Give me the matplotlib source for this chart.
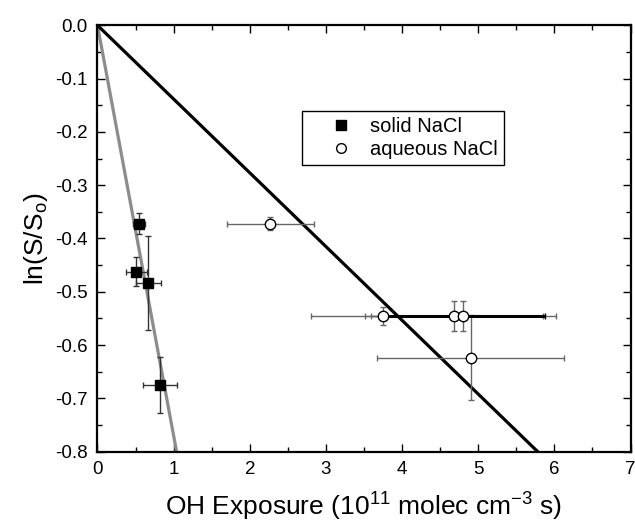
import matplotlib
matplotlib.use("Agg")
import matplotlib.pyplot as plt
from matplotlib.ticker import MultipleLocator, FormatStrFormatter
from matplotlib.lines import Line2D
import numpy as np

plt.rcParams['font.family'] = ['Liberation Sans', 'DejaVu Sans']
plt.rcParams['mathtext.fontset'] = 'custom'
plt.rcParams['mathtext.rm'] = 'Liberation Sans'
plt.rcParams['mathtext.it'] = 'Liberation Sans:italic'
plt.rcParams['axes.unicode_minus'] = False

# solid NaCl data
solid_x = [0.55, 0.51, 0.67, 0.82]
solid_y = [-0.372, -0.462, -0.484, -0.675]
solid_xerr = [0.08, 0.135, 0.17, 0.22]
solid_yerr = [0.02, 0.028, 0.088, 0.053]

# aqueous NaCl data
aq_x = [2.27, 3.745, 4.68, 4.805, 4.90]
aq_y = [-0.372, -0.545, -0.545, -0.545, -0.624]
aq_xerr = [0.57, 0.945, 1.17, 1.21, 1.23]
aq_yerr = [0.012, 0.017, 0.028, 0.028, 0.08]

# extra (thick black) horizontal error bar on one aqueous point
alt_x = [4.805]
alt_y = [-0.545]
alt_xerr = [1.07]

# fitted lines (through origin)
solid_slope = -0.77
aq_slope = -0.1384
fit_x = [0.0, 7.0]

fig = plt.figure(figsize=(6.35, 5.27), dpi=100)
ax = fig.add_axes([0.1535, 0.143, 0.8395, 0.809])

xs = np.array(fit_x)
ax.plot(xs, solid_slope * xs, color='#8c8c8c', lw=2.3, zorder=2)
ax.plot(xs, aq_slope * xs, color='black', lw=2.3, zorder=2)

ax.errorbar(solid_x, solid_y, xerr=solid_xerr, yerr=solid_yerr, fmt='s',
            color='black', ms=6.5, mfc='black', mec='black',
            ecolor='#333333', elinewidth=1.0, capsize=2.5, capthick=1.0,
            zorder=4)
ax.errorbar(aq_x, aq_y, xerr=aq_xerr, yerr=aq_yerr, fmt='none',
            ecolor='#666666', elinewidth=1.0, capsize=2.5, capthick=1.0,
            zorder=3)
ax.errorbar(alt_x, alt_y, xerr=alt_xerr, fmt='none',
            ecolor='black', elinewidth=2.2, capsize=2.5, capthick=1.0,
            zorder=3.5)
ax.plot(aq_x, aq_y, 'o', ms=7.5, mfc='white', mec='black', mew=1.0,
        zorder=5)

ax.set_xlim(0, 7)
ax.set_ylim(-0.8, 0.0)
ax.xaxis.set_major_locator(MultipleLocator(1))
ax.xaxis.set_minor_locator(MultipleLocator(0.5))
ax.yaxis.set_major_locator(MultipleLocator(0.1))
ax.yaxis.set_minor_locator(MultipleLocator(0.05))
ax.yaxis.set_major_formatter(FormatStrFormatter('%.1f'))
ax.tick_params(which='both', direction='in', top=True, right=True, width=1.0)
ax.tick_params(which='major', length=6, labelsize=13.5, pad=7)
ax.tick_params(which='minor', length=3.5)
for s in ax.spines.values():
    s.set_linewidth(1.6)

ax.set_xlabel('OH Exposure (10$^{11}$ molec cm$^{\\mathrm{-3}}$ s)', fontsize=19, labelpad=9)
ax.set_ylabel('ln(S/S$_{\\mathrm{o}}$)', fontsize=19, labelpad=4)

h1 = Line2D([], [], marker='s', ls='none', color='black', ms=7)
h2 = Line2D([], [], marker='o', ls='none', mfc='white', mec='black', ms=7)
leg = ax.legend([h1, h2], ['solid NaCl', 'aqueous NaCl'], loc='upper left',
                bbox_to_anchor=(0.383, 0.80), fontsize=14.5, frameon=True,
                fancybox=False, edgecolor='black', framealpha=1,
                handlelength=3.3, handletextpad=-0.2, borderpad=0.3,
                labelspacing=0.2, borderaxespad=0)
leg.get_frame().set_linewidth(1.0)

fig.savefig('out.png', dpi=100)
